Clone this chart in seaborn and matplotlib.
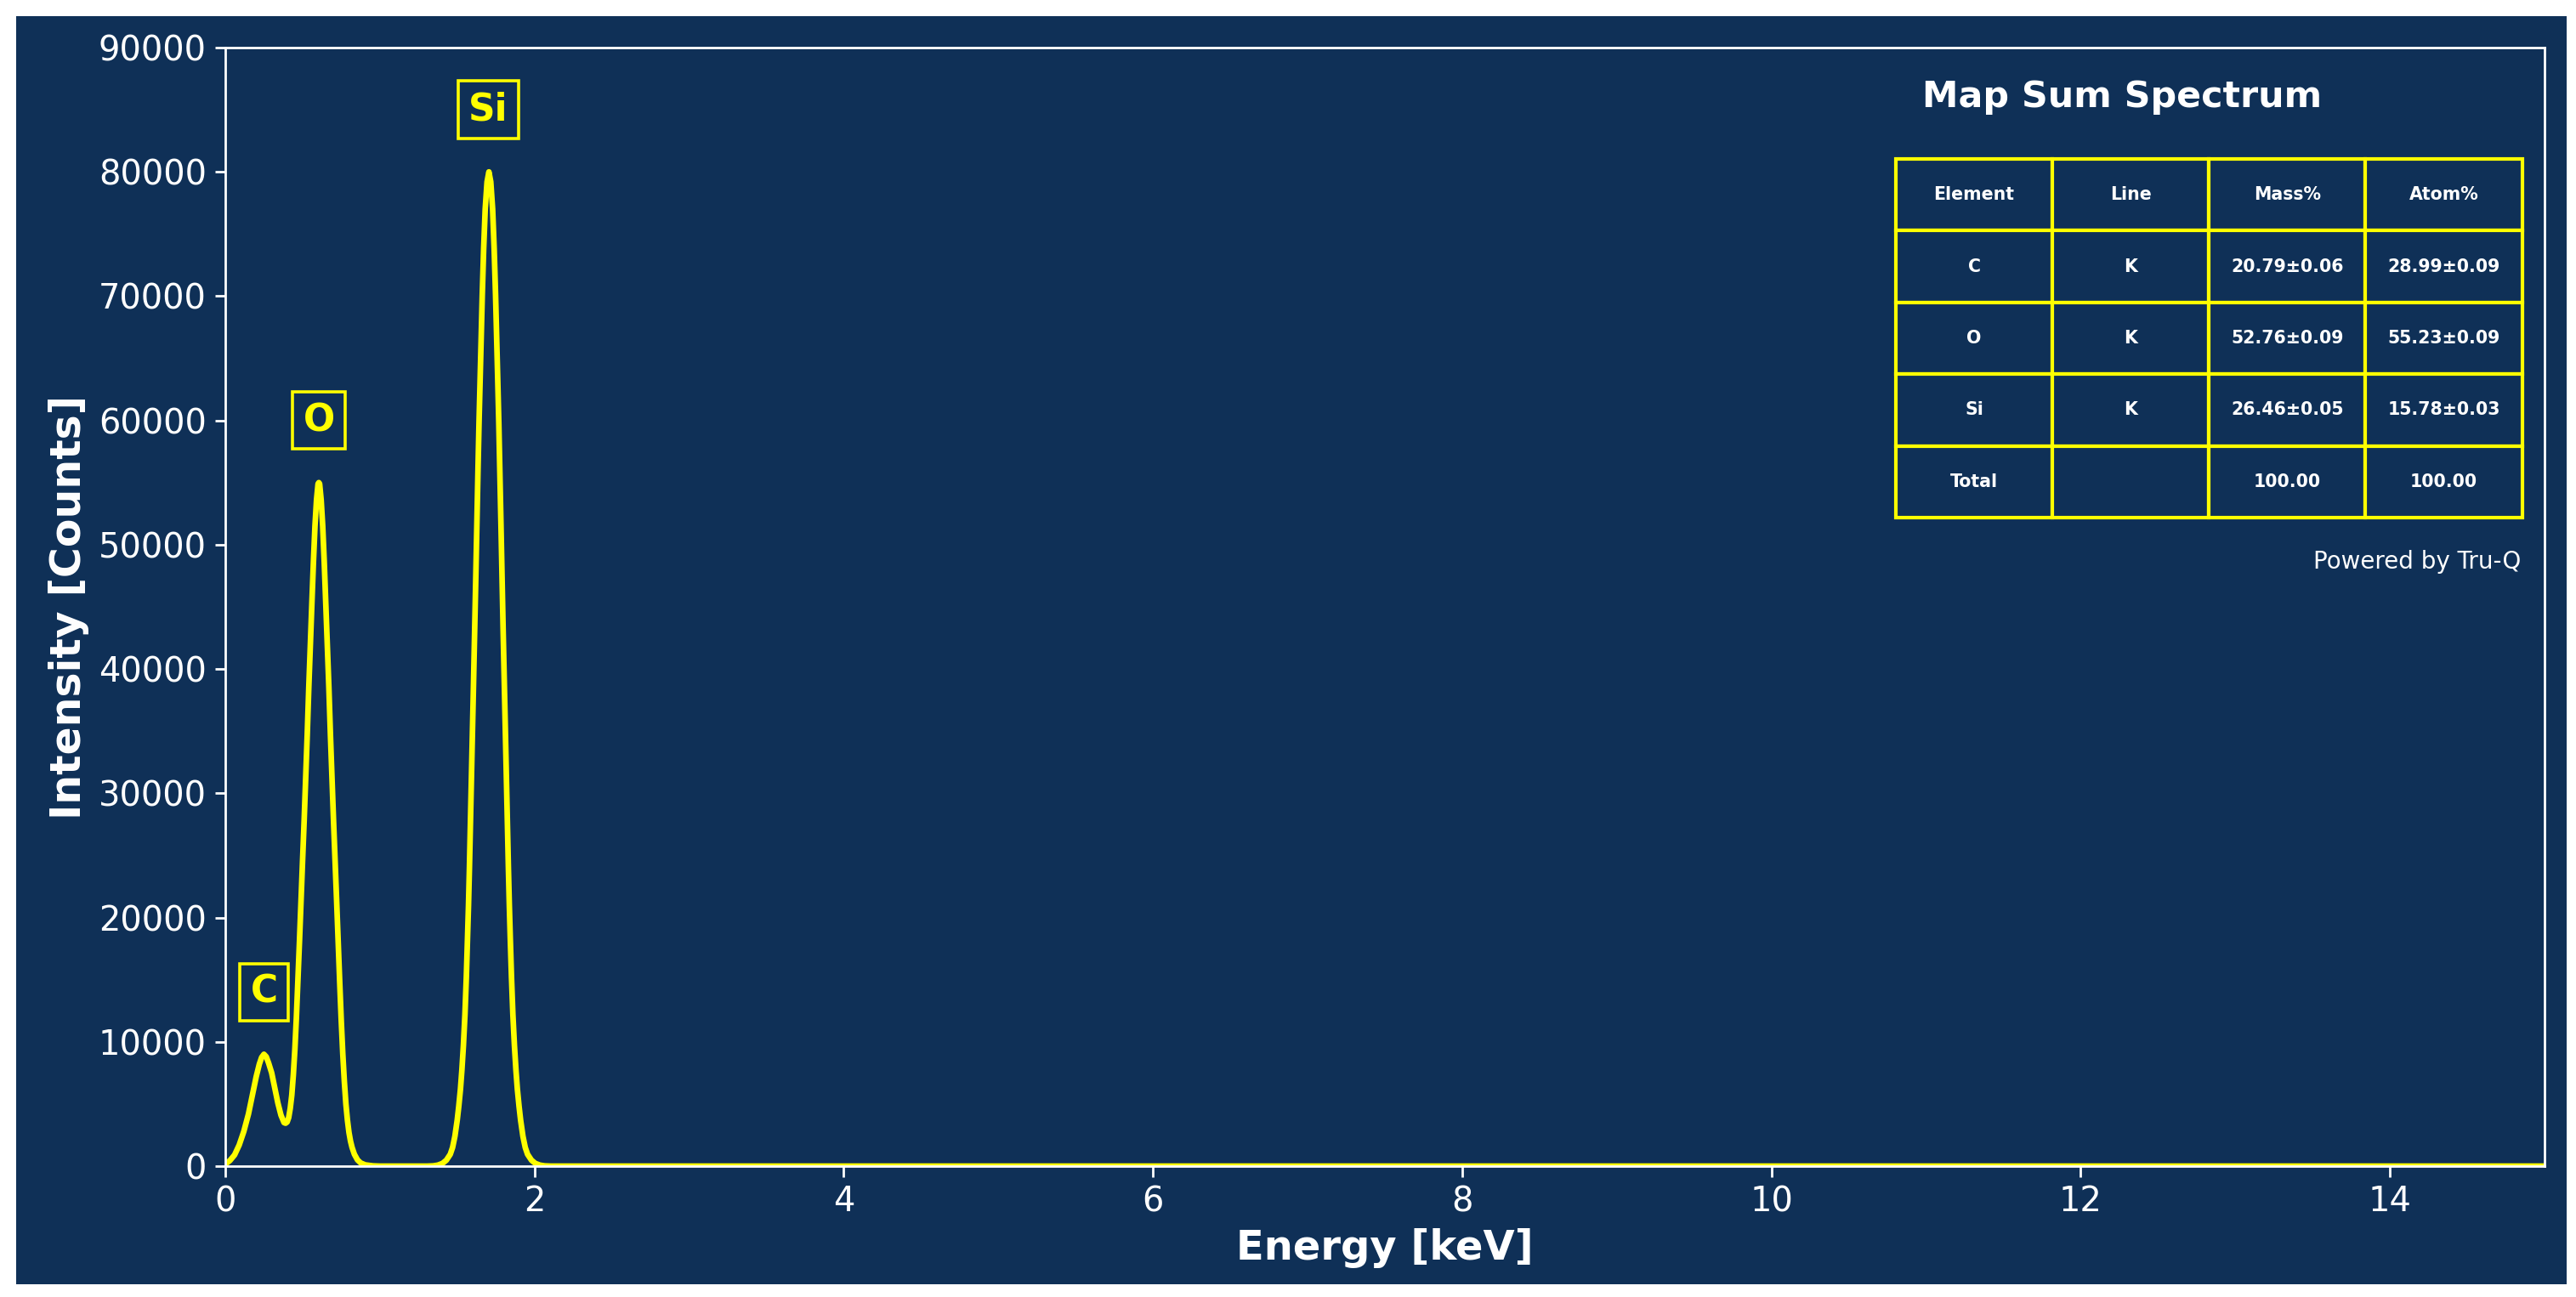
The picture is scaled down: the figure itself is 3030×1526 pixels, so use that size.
import numpy as np
import pandas as pd
import matplotlib
matplotlib.use("Agg")
import matplotlib.pyplot as plt
from matplotlib.patches import Rectangle
import seaborn as sns

# ---------------- data ----------------
# C + O region
co_energy = [0.00, 0.03, 0.06, 0.09, 0.12, 0.15, 0.18, 0.20, 0.22, 0.235,
             0.25, 0.265, 0.28, 0.30, 0.32, 0.34, 0.36, 0.38, 0.39, 0.40,
             0.41, 0.42, 0.43, 0.44, 0.45, 0.46, 0.47, 0.48, 0.49, 0.50,
             0.51, 0.52, 0.53, 0.54, 0.55, 0.56, 0.57, 0.58, 0.59, 0.60,
             0.605, 0.61, 0.62, 0.63, 0.64, 0.65, 0.66, 0.67, 0.68, 0.69,
             0.70, 0.71, 0.72, 0.73, 0.74, 0.75, 0.76, 0.77, 0.78, 0.79,
             0.80, 0.81, 0.82, 0.835, 0.855, 0.875, 0.905, 0.955, 1.00]
co_counts = [150, 450, 900, 1700, 2800, 4200, 6000, 7200, 8200, 8750,
             9000, 8800, 8300, 7500, 6300, 5080, 4100, 3500, 3450, 3550,
             3900, 4640, 5700, 7340, 9400, 12000, 15000, 18150, 21500, 24650,
             27800, 31200, 34700, 38500, 42000, 45300, 48600, 51500, 53600, 54900,
             55000, 54900, 53600, 51500, 48600, 45300, 42000, 38500, 34700, 31200,
             27800, 24600, 21400, 18000, 14800, 11700, 9000, 6800, 5000, 3700,
             2700, 2000, 1500, 950, 500, 260, 100, 20, 0]
# Si region
si_energy = [1.305, 1.345, 1.375, 1.405, 1.43, 1.455, 1.47, 1.485, 1.50, 1.51,
             1.521, 1.53, 1.54, 1.55, 1.559, 1.567, 1.573, 1.579, 1.587, 1.595,
             1.605, 1.613, 1.62, 1.627, 1.635, 1.641, 1.648, 1.655, 1.662, 1.671,
             1.681, 1.693, 1.705, 1.717, 1.729, 1.739, 1.748, 1.755, 1.762, 1.769,
             1.775, 1.783, 1.79, 1.797, 1.805, 1.815, 1.823, 1.831, 1.837, 1.843,
             1.851, 1.86, 1.87, 1.88, 1.889, 1.90, 1.91, 1.925, 1.94, 1.955,
             1.98, 2.005, 2.035, 2.065, 2.105]
si_counts = [0, 20, 80, 220, 480, 950, 1500, 2400, 3700, 4800,
             6200, 7700, 9700, 12200, 15200, 18400, 21000, 24000, 28400, 33000,
             38600, 43100, 47300, 51600, 56400, 59800, 63300, 66800, 70100, 73800,
             77000, 79200, 80000, 79200, 77000, 73800, 70100, 66800, 63300, 59800,
             56400, 51600, 47300, 43100, 38600, 33000, 28400, 24000, 21000, 18400,
             15200, 12200, 9700, 7700, 6200, 4800, 3700, 2400, 1500, 950,
             480, 220, 80, 20, 0]
# flat background up to the end of the axis
tail_energy = [15.00]
tail_counts = [0]

peak_labels = ["C", "O", "Si"]
peak_label_x = [0.25, 0.605, 1.70]
peak_label_y = [14000, 60000, 85000]

table_columns = ["Element", "Line", "Mass%", "Atom%"]
table_elements = ["C", "O", "Si", "Total"]
table_lines = ["K", "K", "K", ""]
table_mass = ["20.79±0.06", "52.76±0.09", "26.46±0.05", "100.00"]
table_atom = ["28.99±0.09", "55.23±0.09", "15.78±0.03", "100.00"]

x_ticks = [0, 2, 4, 6, 8, 10, 12, 14]
y_ticks = [0, 10000, 20000, 30000, 40000, 50000, 60000, 70000, 80000, 90000]

# ---------------- style ----------------
NAVY = "#0f3057"
YELLOW = "#ffff00"
sns.set_theme(style="ticks")
plt.rcParams["font.family"] = ["DejaVu Sans"]

W, H, DPI = 3030, 1526, 200
fig = plt.figure(figsize=(W / DPI, H / DPI), dpi=DPI, facecolor="white")
fig.add_artist(Rectangle((19 / W, 1 - 1511 / H), (3019 - 19) / W, (1511 - 19) / H,
                         transform=fig.transFigure, facecolor=NAVY,
                         edgecolor="none", zorder=-5))

ax = fig.add_axes([265 / W, 1 - 1372 / H, (2993 - 265) / W, (1372 - 56) / H])
ax.set_facecolor(NAVY)

df = pd.DataFrame({"Energy": co_energy + si_energy + tail_energy,
                   "Counts": co_counts + si_counts + tail_counts})
sns.lineplot(data=df, x="Energy", y="Counts", color=YELLOW, linewidth=2.4,
             ax=ax, sort=False, estimator=None)

ax.set_xlim(0, 15)
ax.set_ylim(0, 90000)
ax.set_xticks(x_ticks)
ax.set_yticks(y_ticks)
ax.set_xticklabels([str(t) for t in x_ticks])
ax.set_yticklabels([str(t) for t in y_ticks])

for s in ax.spines.values():
    s.set_visible(True)
    s.set_color("white")
    s.set_linewidth(1.0)
ax.tick_params(colors="white", labelcolor="white", labelsize=14.4,
               width=1.0, length=4.5)
ax.set_xlabel("Energy [keV]", color="white", fontsize=17.3, fontweight="bold")
ax.set_ylabel("Intensity [Counts]", color="white", fontsize=17.6,
              fontweight="bold")
ax.grid(False)

for lab, lx, ly in zip(peak_labels, peak_label_x, peak_label_y):
    ax.text(lx, ly, lab, ha="center", va="center", color=YELLOW,
            fontsize=15.8, fontweight="bold",
            bbox=dict(boxstyle="square,pad=0.28", facecolor="none",
                      edgecolor=YELLOW, linewidth=1.3))

# table
ax.text(0.818, 0.956, "Map Sum Spectrum", transform=ax.transAxes,
        ha="center", va="center", color="white", fontsize=15.4,
        fontweight="bold")
cell_text = [list(r) for r in zip(table_elements, table_lines, table_mass,
                                  table_atom)]
tbl = ax.table(cellText=cell_text, colLabels=table_columns, cellLoc="center",
               bbox=[0.7203, 0.5798, 0.270, 0.3207])
tbl.auto_set_font_size(False)
for (r, c), cell in tbl.get_celld().items():
    cell.set_facecolor(NAVY)
    cell.set_edgecolor(YELLOW)
    cell.set_linewidth(1.5)
    cell.get_text().set_color("white")
    cell.get_text().set_fontweight("bold")
    cell.get_text().set_fontsize(7.4)

ax.text(0.990, 0.540, "Powered by Tru-Q", transform=ax.transAxes,
        ha="right", va="center", color="white", fontsize=10.0)

fig.savefig("out.png", dpi=DPI, facecolor="white")
